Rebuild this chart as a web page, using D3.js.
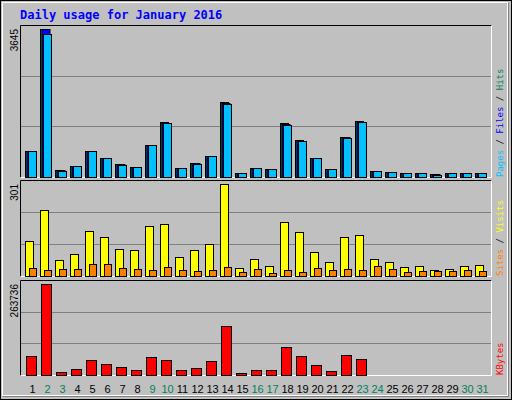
<!DOCTYPE html>
<html><head><meta charset="utf-8">
<script src="https://cdn.jsdelivr.net/npm/d3@7"></script>
<style>body{margin:0;background:#fff}svg{display:block}</style>
</head><body>
<svg id="c" width="512" height="400"></svg>
<script>
const days = d3.range(1, 32);
const weekend = [2,3,9,10,16,17,23,24,30,31];
const hits = [635,3645,181,280,651,478,330,256,800,1344,231,355,528,1839,107,231,206,1319,899,478,206,981,1369,157,132,91,91,66,91,91,107];
const files = [632,3640,178,278,648,476,328,254,796,1335,229,352,525,1830,105,229,204,1300,895,476,204,975,1360,155,130,89,89,64,89,89,105];
const pages = [635,3530,160,260,640,478,300,256,780,1319,231,330,510,1810,90,231,206,1270,880,478,190,960,1345,140,115,91,91,60,91,91,100];
const visits = [115,216,53,73,148,128,89,86,164,171,63,86,105,301,27,57,34,177,145,79,47,128,135,57,47,30,34,21,24,34,37];
const sites = [27,21,24,24,40,40,27,24,21,30,21,17,21,30,14,24,11,21,14,27,21,24,21,34,24,14,17,17,17,21,17];
const kbytes = [55830,263736,9625,18290,44280,32730,24060,15400,52940,44280,15400,21180,41390,142460,6740,15400,15400,81820,55830,29840,12510,58720,47170,100,100,100,100,100,100,100,100];

const svg = d3.select("#c");
svg.append("rect").attr("x",0.5).attr("y",0.5).attr("width",511).attr("height",399).attr("fill","#c0c0c0").attr("stroke","#000");
svg.append("rect").attr("x",2.5).attr("y",2.5).attr("width",505).attr("height",393).attr("fill","none").attr("stroke","#fff");
svg.append("path").attr("d","M508.5,3V396.5H3").attr("fill","none").attr("stroke","#808080");
svg.append("text").attr("x",20).attr("y",19).attr("fill","#0000ff").attr("font-family","DejaVu Sans Mono").attr("font-weight","bold").attr("font-size",12).text("Daily usage for January 2016");

const x = d3.scaleBand().domain(days).range([21,486]).paddingInner(0);
const mono = "DejaVu Sans Mono";

function panel(top, bottom, max, maxLabel, legend) {
  svg.append("path").attr("d",`M20.5,${bottom+0.5}V${top+0.5}H491.5`).attr("fill","none").attr("stroke","#000");
  svg.append("path").attr("d",`M491.5,${top+0.5}V${bottom+0.5}H20.5`).attr("fill","none").attr("stroke","#fff");
  const y = d3.scaleLinear().domain([0,max]).range([bottom,top+4]);
  const h = bottom-top;
  [1,2].forEach(i=>{
    const gy = Math.round(bottom - h*i/3)+0.5;
    svg.append("line").attr("x1",21).attr("x2",491).attr("y1",gy).attr("y2",gy).attr("stroke","#808080");
  });
  svg.append("text").attr("transform",`translate(18,${top+4}) rotate(-90)`).attr("text-anchor","end")
    .attr("font-family","Liberation Sans").attr("font-size",10).attr("fill","#000").text(maxLabel);
  const t = svg.append("text").attr("transform",`translate(503,${bottom}) rotate(-90)`)
    .attr("font-family",mono).attr("font-size",9);
  legend.forEach((l,i)=>{ t.append("tspan").attr("fill",l[1]).text(l[0]); if(i<legend.length-1) t.append("tspan").attr("fill","#000").text(" / "); });
  return y;
}
function bars(data, y, dx, w, color, bottom) {
  svg.append("g").selectAll("rect").data(data).join("rect")
    .attr("x",(d,i)=>x(days[i])+dx+0.5).attr("y",d=>Math.round(y(d))+0.5)
    .attr("width",w).attr("height",d=>Math.max(0,bottom-Math.round(y(d))))
    .attr("fill",color).attr("stroke","#000");
}

const b1 = 177;
const y1 = panel(25, b1, 3645, "3645", [["Pages","#00c0ff"],["Files","#0000ff"],["Hits","#00805c"]]);
bars(hits,y1,4,8,"#00805c",b1);
bars(files,y1,5.5,8,"#0000ff",b1);
bars(pages,y1,7,8,"#00c0ff",b1);

const b2 = 276;
const y2 = panel(180, b2, 301, "301", [["Sites","#ff8000"],["Visits","#ffff00"]]);
bars(visits,y2,4,8,"#ffff00",b2);
bars(sites,y2,8,7,"#ff8000",b2);

const b3 = 375;
const y3 = panel(280, b3, 263736, "263736", [["KBytes","#ff0000"]]);
bars(kbytes,y3,5,10,"#ff0000",b3);

svg.append("g").selectAll("text").data(days).join("text")
  .attr("x",d=>x(d)+x.bandwidth()/2+4).attr("y",393).attr("text-anchor","middle")
  .attr("font-family","Liberation Sans").attr("font-size",11)
  .attr("fill",d=>weekend.includes(d)?"#00805c":"#000").text(d=>d);
</script>
</body></html>
